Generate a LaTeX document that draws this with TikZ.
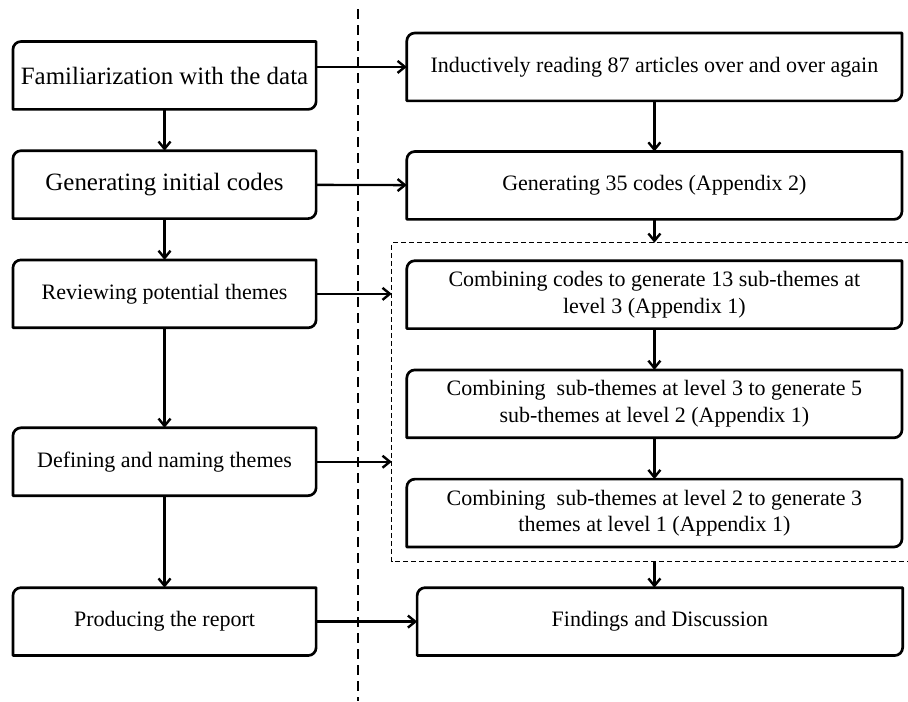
\documentclass[tikz,border=0pt]{standalone}
\usepackage{fontspec}
\setmainfont{Liberation Serif}
\usetikzlibrary{arrows.meta,positioning,fit,calc}

\begin{document}
\begin{tikzpicture}[
  node distance=31pt,
  lbox/.style={align=center, minimum width=227pt, minimum height=50.5pt,
               inner sep=0pt, font=\fontsize{16.5pt}{20pt}\selectfont},
  lbig/.style={lbox, font=\fontsize{18.7pt}{22pt}\selectfont},
  rbox/.style={align=center, minimum width=371pt, minimum height=50.5pt,
               inner sep=0pt, font=\fontsize{16.5pt}{20pt}\selectfont},
  outline/.style={line width=2pt, line join=round},
  arrow/.style={-{Straight Barb[length=5.5pt,width=9pt]}, line width=1.8pt},
  groupline/.style={dash pattern=on 3.5pt off 2.5pt, line width=0.9pt},
  divider/.style={line width=1.9pt, dash pattern=on 7.5pt off 4.5pt}
]
\useasboundingbox (0,0) rectangle (681pt,-525.75pt);

% left column: phases
\node[lbig] (fam) at (123.4pt,-56.6pt) {Familiarization with the data};
\node[lbig, below=of fam] (gen) {Generating initial codes};
\node[lbox, below=31pt of gen] (rev) {Reviewing potential themes};
\node[lbox, below=75pt of rev] (def) {Defining and naming themes};
\node[lbox, below=69pt of def] (rep) {Producing the report};

% right column: what was done
\node[rbox, right=68pt of fam, yshift=6.4pt] (read) {Inductively reading 87 articles over and over again};
\node[rbox, below=38pt of read] (codes) {Generating 35 codes (Appendix 2)};
\node[rbox, below=of codes] (sub3) {Combining codes to generate 13 sub-themes at\\level 3 (Appendix 1)};
\node[rbox, below=of sub3] (sub2) {Combining~~sub-themes at level 3 to generate 5\\sub-themes at level 2 (Appendix 1)};
\node[rbox, below=of sub2] (top1) {Combining~~sub-themes at level 2 to generate 3\\themes at level 1 (Appendix 1)};
\node[rbox, minimum width=363.75pt, right=75.75pt of rep] (find) {Findings and Discussion};

% box outlines, rounded at top left and bottom right only
\foreach \n in {fam,gen,rev,def,rep,read,codes,sub3,sub2,top1,find}
  \draw[outline] (\n.south west) -- ([yshift=-6pt]\n.north west)
    arc[start angle=180, end angle=90, radius=6pt] -- (\n.north east)
    -- ([yshift=6pt]\n.south east)
    arc[start angle=0, end angle=-90, radius=6pt] -- cycle;

% dashed group round the three combining steps, open at the page edge
\coordinate (gtl) at (294pt,-182.25pt);
\coordinate (gbr) at (682pt,-420.75pt);
\node[inner sep=0pt, fit=(gtl)(gbr)] (grp) {};
\draw[groupline] (grp.north east) -- (grp.north west) -- (grp.south west) -- (grp.south east);

% divider
\coordinate (divtop) at (268.5pt,-6.75pt);
\coordinate (divbot) at (268.5pt,-526pt);
\draw[divider] (divtop) -- (divbot);

% arrows
\draw[arrow] (fam) -- (gen);
\draw[arrow] (gen) -- (rev);
\draw[arrow] (rev) -- (def);
\draw[arrow] (def) -- (rep);
\draw[arrow] (fam.east |- read) -- (read.west);
\draw[arrow] (gen) -- (codes);
\draw[arrow] (rev.east) -- (rev.east -| grp.west);
\draw[arrow] (def.east) -- (def.east -| grp.west);
\draw[arrow] (rep) -- (find);
\draw[arrow] (read) -- (codes);
\draw[arrow] (codes.south) -- (codes.south |- grp.north);
\draw[arrow] (sub3) -- (sub2);
\draw[arrow] (sub2) -- (top1);
\draw[arrow] (codes.south |- grp.south) -- (codes.south |- find.north);
\end{tikzpicture}
\end{document}
